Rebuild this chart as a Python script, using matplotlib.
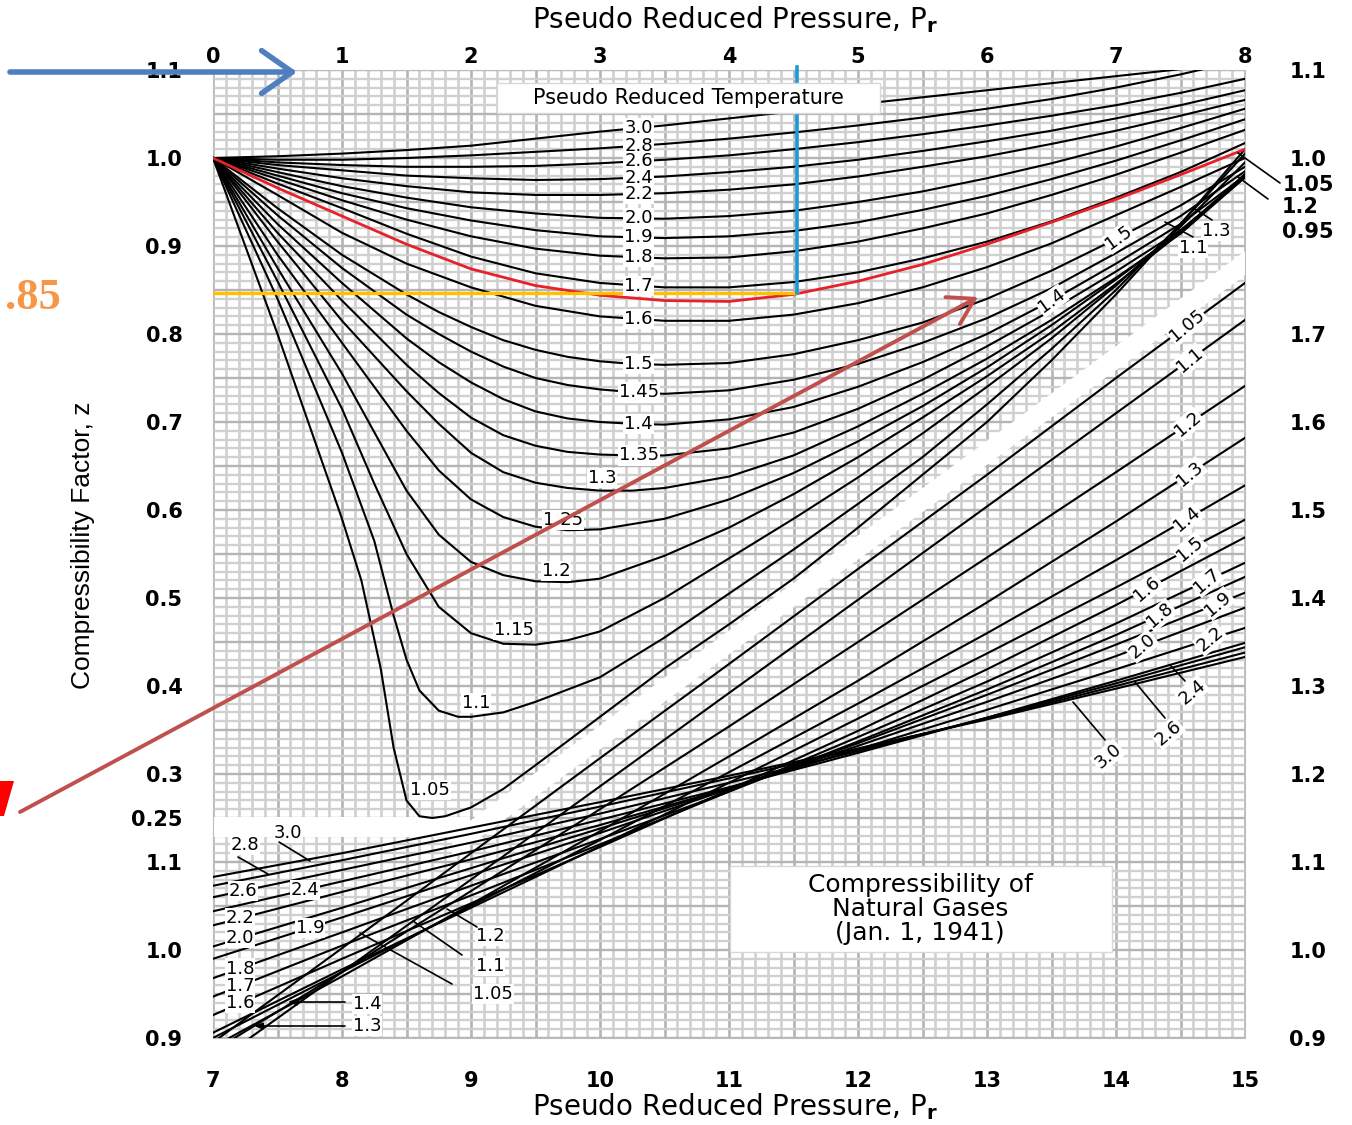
import numpy as np
import matplotlib.pyplot as plt
from matplotlib.patches import Polygon, Rectangle

# ---------------- values ----------------
# upper chart: pseudo reduced pressure 0-8 (top scale), z on the upper-left scale
pr_up = [0, 0.5, 1, 1.5, 2, 2.5, 3, 3.5, 4, 4.5, 5, 5.5, 6, 6.5, 7, 7.5, 8]
z_up_30 = [1.0, 1.002, 1.005, 1.009, 1.014, 1.022, 1.030, 1.037, 1.045, 1.053, 1.061, 1.069, 1.077, 1.085, 1.093, 1.101, 1.109]
z_up_28 = [1.0, 0.998, 0.998, 1.000, 1.003, 1.007, 1.011, 1.016, 1.022, 1.029, 1.037, 1.046, 1.056, 1.067, 1.080, 1.095, 1.112]
z_up_26 = [1.0, 0.995, 0.992, 0.990, 0.990, 0.991, 0.994, 0.998, 1.003, 1.010, 1.018, 1.027, 1.037, 1.048, 1.060, 1.074, 1.090]
z_up_24 = [1.0, 0.992, 0.986, 0.980, 0.977, 0.975, 0.976, 0.979, 0.984, 0.990, 0.998, 1.008, 1.019, 1.031, 1.045, 1.060, 1.077]
z_up_22 = [1.0, 0.988, 0.977, 0.968, 0.961, 0.958, 0.958, 0.960, 0.964, 0.970, 0.979, 0.990, 1.002, 1.016, 1.031, 1.048, 1.066]
z_up_20 = [1.0, 0.984, 0.968, 0.955, 0.944, 0.937, 0.932, 0.931, 0.934, 0.940, 0.950, 0.962, 0.977, 0.994, 1.013, 1.034, 1.056]
z_up_19 = [1.0, 0.980, 0.960, 0.943, 0.929, 0.918, 0.911, 0.909, 0.911, 0.917, 0.927, 0.941, 0.957, 0.976, 0.997, 1.020, 1.044]
z_up_18 = [1.0, 0.976, 0.952, 0.930, 0.911, 0.897, 0.889, 0.886, 0.887, 0.894, 0.905, 0.920, 0.937, 0.958, 0.981, 1.006, 1.032]
z_up_17 = [1.0, 0.971, 0.943, 0.914, 0.888, 0.869, 0.858, 0.853, 0.853, 0.859, 0.870, 0.886, 0.905, 0.928, 0.955, 0.984, 1.017]
z_up_16 = [1.0, 0.958, 0.915, 0.880, 0.853, 0.832, 0.820, 0.815, 0.815, 0.822, 0.835, 0.853, 0.876, 0.903, 0.935, 0.967, 1.000]

pr_mid = [0, 0.5, 1, 1.5, 1.75, 2, 2.25, 2.5, 2.75, 3, 3.25, 3.5, 4, 4.5, 5, 5.5, 6, 6.5, 7, 7.5, 8]
z_up_15 = [1.0, 0.943, 0.890, 0.845, 0.825, 0.808, 0.793, 0.782, 0.774, 0.769, 0.766, 0.765, 0.767, 0.777, 0.793, 0.813, 0.840, 0.872, 0.908, 0.946, 0.990]
z_up_145 = [1.0, 0.935, 0.875, 0.822, 0.800, 0.780, 0.763, 0.750, 0.742, 0.737, 0.734, 0.732, 0.736, 0.748, 0.766, 0.790, 0.818, 0.852, 0.892, 0.934, 0.985]
z_up_14 = [1.0, 0.925, 0.858, 0.795, 0.768, 0.745, 0.726, 0.712, 0.704, 0.700, 0.698, 0.697, 0.703, 0.717, 0.740, 0.768, 0.800, 0.838, 0.880, 0.925, 0.980]
z_up_135 = [1.0, 0.915, 0.838, 0.765, 0.733, 0.705, 0.685, 0.673, 0.666, 0.663, 0.662, 0.662, 0.670, 0.688, 0.715, 0.748, 0.786, 0.827, 0.871, 0.918, 0.978]
z_up_13 = [1.0, 0.905, 0.815, 0.735, 0.698, 0.665, 0.643, 0.631, 0.625, 0.622, 0.622, 0.625, 0.638, 0.662, 0.695, 0.732, 0.772, 0.816, 0.864, 0.914, 0.978]

pr_up_lo = [0, 0.5, 1, 1.5, 1.75, 2, 2.25, 2.5, 2.75, 3, 3.5, 4, 4.5, 5, 5.5, 6, 6.5, 7, 7.5, 8]
z_up_125 = [1.0, 0.890, 0.790, 0.690, 0.645, 0.612, 0.592, 0.581, 0.577, 0.578, 0.590, 0.612, 0.642, 0.678, 0.718, 0.762, 0.810, 0.862, 0.917, 0.980]
z_up_12 = [1.0, 0.875, 0.755, 0.622, 0.572, 0.541, 0.526, 0.519, 0.518, 0.522, 0.548, 0.580, 0.618, 0.660, 0.705, 0.752, 0.802, 0.857, 0.915, 0.982]

pr_up_115 = [0, 0.5, 1, 1.25, 1.5, 1.75, 2, 2.25, 2.5, 2.75, 3, 3.5, 4, 4.5, 5, 5.5, 6, 6.5, 7, 7.5, 8]
z_up_115 = [1.0, 0.860, 0.715, 0.630, 0.550, 0.490, 0.460, 0.448, 0.447, 0.452, 0.462, 0.500, 0.545, 0.590, 0.637, 0.687, 0.740, 0.795, 0.855, 0.922, 0.995]

pr_up_11 = [0, 0.5, 1, 1.25, 1.4, 1.5, 1.6, 1.75, 1.9, 2, 2.25, 2.5, 3, 3.5, 4, 4.5, 5, 5.5, 6, 6.5, 7, 7.5, 8]
z_up_11 = [1.0, 0.840, 0.665, 0.565, 0.480, 0.430, 0.395, 0.372, 0.365, 0.365, 0.370, 0.382, 0.410, 0.455, 0.505, 0.555, 0.607, 0.660, 0.720, 0.783, 0.850, 0.925, 1.005]

pr_up_105 = [0, 0.25, 0.5, 0.75, 1, 1.15, 1.3, 1.4, 1.5, 1.6, 1.7, 1.8, 2, 2.25, 2.5, 3, 3.5, 4, 4.5, 5, 5.5, 6, 6.5, 7, 7.5, 8]
z_up_105 = [1.0, 0.900, 0.800, 0.695, 0.590, 0.520, 0.420, 0.330, 0.270, 0.252, 0.250, 0.252, 0.262, 0.283, 0.310, 0.365, 0.420, 0.470, 0.522, 0.580, 0.640, 0.700, 0.770, 0.845, 0.925, 1.010]

# highlighted curve and the read-off point (z = 0.85 at Pr = 4.5)
z_red = [1.0, 0.966, 0.934, 0.902, 0.874, 0.855, 0.844, 0.838, 0.837, 0.845, 0.860, 0.879, 0.902, 0.927, 0.953, 0.981, 1.010]
pr_read = 4.53
z_read = 0.847

# lower chart: pseudo reduced pressure 7-15 (bottom scale), z on the right scale
pr_lo = [7, 8, 9, 10, 11, 12, 13, 14, 15]
z_lo_105 = [0.895, 1.002, 1.110, 1.218, 1.325, 1.433, 1.540, 1.650, 1.758]
z_lo_11 = [0.870, 0.975, 1.080, 1.186, 1.292, 1.398, 1.504, 1.610, 1.716]
z_lo_12 = [0.885, 0.975, 1.067, 1.160, 1.254, 1.350, 1.446, 1.543, 1.641]
z_lo_13 = [0.890, 0.970, 1.052, 1.135, 1.220, 1.306, 1.395, 1.487, 1.582]
z_lo_14 = [0.900, 0.975, 1.050, 1.125, 1.202, 1.280, 1.360, 1.443, 1.528]
z_lo_15 = [0.906, 0.978, 1.048, 1.118, 1.190, 1.263, 1.337, 1.412, 1.489]
z_lo_16 = [0.926, 0.990, 1.053, 1.117, 1.182, 1.249, 1.319, 1.392, 1.469]
z_lo_17 = [0.947, 1.005, 1.062, 1.120, 1.180, 1.242, 1.305, 1.371, 1.440]
z_lo_18 = [0.968, 1.020, 1.073, 1.126, 1.180, 1.237, 1.296, 1.358, 1.424]
z_lo_19 = [0.990, 1.037, 1.085, 1.133, 1.183, 1.235, 1.290, 1.347, 1.406]
z_lo_20 = [1.004, 1.048, 1.093, 1.138, 1.184, 1.232, 1.282, 1.334, 1.389]
z_lo_22 = [1.028, 1.066, 1.103, 1.142, 1.184, 1.228, 1.273, 1.319, 1.366]
z_lo_24 = [1.044, 1.078, 1.112, 1.148, 1.185, 1.224, 1.264, 1.306, 1.349]
z_lo_26 = [1.060, 1.091, 1.122, 1.155, 1.190, 1.226, 1.264, 1.303, 1.344]
z_lo_28 = [1.073, 1.102, 1.132, 1.163, 1.195, 1.228, 1.263, 1.300, 1.338]
z_lo_30 = [1.083, 1.110, 1.139, 1.168, 1.198, 1.229, 1.262, 1.297, 1.333]

top_ticks = [str(v) for v in range(0, 9)]
bottom_ticks = [str(v) for v in range(7, 16)]
left_pos = [1.1, 1.0, 0.9, 0.8, 0.7, 0.6, 0.5, 0.4, 0.3, 0.25, 0.2, 0.1, 0.0]
left_lbl = ['1.1', '1.0', '0.9', '0.8', '0.7', '0.6', '0.5', '0.4', '0.3', '0.25', '1.1', '1.0', '0.9']
right_pos = [1.1, 1.0, 0.8, 0.7, 0.6, 0.5, 0.4, 0.3, 0.2, 0.1, 0.0]
right_lbl = ['1.1', '1.0', '1.7', '1.6', '1.5', '1.4', '1.3', '1.2', '1.1', '1.0', '0.9']

# ---------------- figure ----------------
plt.rcParams['font.family'] = ['DejaVu Sans']
W, H = 1352, 1125
fig = plt.figure(figsize=(W / 100, H / 100), dpi=100)
ax = fig.add_axes([213 / W, 1 - 1038 / H, 1032 / W, 968 / H])
ax.set_xlim(0, 8)
ax.set_ylim(0, 1.1)


def px(x, y):
    # reference-image pixel -> data coords of the main axes
    return (x - 213) / 129.0, 1.0 - (y - 158) / 880.0


def fpx(x, y):
    return x / W, 1 - y / H


# graph paper
for g in np.arange(0, 8.001, 0.1):
    major = abs(g * 2 - round(g * 2)) < 1e-6
    ax.axvline(g, color='#b4b4b4' if major else '#d0d0d0', lw=1.9, zorder=0)
for g in np.arange(0, 1.1001, 0.01):
    major = abs(g * 20 - round(g * 20)) < 1e-6
    ax.axhline(g, color='#b4b4b4' if major else '#d0d0d0', lw=1.7, zorder=0)

# white separating band and strip
band_top = [px(x, 605 - (x - 780) * 0.735 - 12) for x in (452, 1248)]
band_bot = [px(x, 605 - (x - 780) * 0.735 + 12) for x in (1248, 452)]
ax.add_patch(Polygon(band_top + band_bot, fc='white', ec='none', zorder=1))
ax.add_patch(Rectangle(px(213, 837), (470 - 213) / 129, 20 / 880, fc='white', ec='none', zorder=1))

# curves
up_curves = [
    (pr_up, z_up_30), (pr_up, z_up_28), (pr_up, z_up_26), (pr_up, z_up_24),
    (pr_up, z_up_22), (pr_up, z_up_20), (pr_up, z_up_19), (pr_up, z_up_18),
    (pr_up, z_up_17), (pr_up, z_up_16), (pr_mid, z_up_15), (pr_mid, z_up_145),
    (pr_mid, z_up_14), (pr_mid, z_up_135), (pr_mid, z_up_13), (pr_up_lo, z_up_125),
    (pr_up_lo, z_up_12), (pr_up_115, z_up_115), (pr_up_11, z_up_11), (pr_up_105, z_up_105),
]
for pr, z in up_curves:
    ax.plot(pr, z, color='black', lw=1.5, zorder=3, solid_joinstyle='round')

lo_curves = [z_lo_105, z_lo_11, z_lo_12, z_lo_13, z_lo_14, z_lo_15, z_lo_16, z_lo_17,
             z_lo_18, z_lo_19, z_lo_20, z_lo_22, z_lo_24, z_lo_26, z_lo_28, z_lo_30]
x_lo = np.array(pr_lo) - 7
for z in lo_curves:
    ax.plot(x_lo, np.array(z) - 0.9, color='black', lw=1.5, zorder=3)

ax.plot(pr_up, z_red, color='#e8202a', lw=2.0, zorder=4)
ax.plot([0, pr_read], [z_read, z_read], color='#ffc000', lw=2.4, zorder=4)
ax.plot([pr_read, pr_read], [z_read, 1.103], color='#1c9ad6', lw=2.6, zorder=4, clip_on=False)


def tag(x, y, s, size=13, rot=0, box=True):
    ax.text(x, y, s, ha='center', va='center', fontsize=size, rotation=rot,
            rotation_mode='anchor', zorder=6,
            bbox=dict(boxstyle='square,pad=0.06', fc='white', ec='none') if box else None)


def leader(p0, p1, arrow=False):
    ax.annotate('', xy=px(*p1), xytext=px(*p0),
                arrowprops=dict(arrowstyle='-|>,head_length=0.5,head_width=0.2' if arrow else '-',
                                lw=1.2, color='black', shrinkA=0, shrinkB=0),
                zorder=6, annotation_clip=False)


# upper chart labels
column = [(pr_up, z_up_30, '3.0'), (pr_up, z_up_28, '2.8'), (pr_up, z_up_26, '2.6'),
          (pr_up, z_up_24, '2.4'), (pr_up, z_up_22, '2.2'), (pr_up, z_up_20, '2.0'),
          (pr_up, z_up_19, '1.9'), (pr_up, z_up_18, '1.8'), (pr_up, z_up_17, '1.7'),
          (pr_up, z_up_16, '1.6'), (pr_mid, z_up_15, '1.5'), (pr_mid, z_up_145, '1.45'),
          (pr_mid, z_up_14, '1.4'), (pr_mid, z_up_135, '1.35')]
for pr, z, s in column:
    tag(3.3, np.interp(3.3, pr, z), s)
for s, p in [('1.3', (602, 478)), ('1.25', (563, 520)), ('1.2', (556, 571)),
             ('1.15', (514, 630)), ('1.1', (476, 703)), ('1.05', (430, 790))]:
    tag(*px(*p), s)
tag(7.02, np.interp(7.02, pr_mid, z_up_15), '1.5', rot=36)
tag(6.5, np.interp(6.5, pr_mid, z_up_14), '1.4', rot=36)
tag(*px(1216, 231), '1.3')
leader((1195, 209), (1212, 220))
tag(*px(1193, 248), '1.1')
leader((1165, 222), (1193, 237))
leader((1238, 153), (1280, 183))
leader((1238, 177), (1268, 199))

# lower chart labels, in line
for z, s, xp in [(z_lo_26, '2.6', 243), (z_lo_22, '2.2', 240), (z_lo_20, '2.0', 240),
                 (z_lo_18, '1.8', 240), (z_lo_17, '1.7', 240), (z_lo_16, '1.6', 240),
                 (z_lo_24, '2.4', 305), (z_lo_19, '1.9', 310)]:
    x = (xp - 213) / 129
    tag(x, np.interp(x + 7, pr_lo, z) - 0.9, s)
for z, s, xp in [(z_lo_105, '1.05', 1187), (z_lo_11, '1.1', 1190), (z_lo_12, '1.2', 1188),
                 (z_lo_13, '1.3', 1190), (z_lo_14, '1.4', 1187), (z_lo_15, '1.5', 1190),
                 (z_lo_16, '1.6', 1147), (z_lo_17, '1.7', 1207), (z_lo_18, '1.8', 1160),
                 (z_lo_19, '1.9', 1218), (z_lo_20, '2.0', 1142), (z_lo_22, '2.2', 1210)]:
    x = (xp - 213) / 129
    tag(x, np.interp(x + 7, pr_lo, z) - 0.9, s, rot=40)

# lower chart labels with leaders
tag(*px(288, 833), '3.0')
leader((279, 842), (310, 861))
tag(*px(245, 845), '2.8')
leader((238, 857), (268, 874))
tag(*px(367, 1004), '1.4')
leader((345, 1002), (288, 1002), arrow=True)
tag(*px(367, 1026), '1.3')
leader((345, 1026), (254, 1026), arrow=True)
tag(*px(490, 936), '1.2')
leader((447, 909), (477, 927))
tag(*px(490, 966), '1.1')
leader((413, 921), (462, 955))
tag(*px(493, 994), '1.05')
leader((360, 933), (452, 984))
tag(*px(1192, 692), '2.4', rot=40)
leader((1170, 665), (1185, 681))
tag(*px(1168, 733), '2.6', rot=40)
leader((1135, 682), (1165, 718))
tag(*px(1108, 756), '3.0', rot=40)
leader((1073, 702), (1105, 740))

# captions inside the grid
ax.add_patch(Rectangle(px(497, 113), (880 - 497) / 129, 30 / 880, fc='white', ec='#d8d8d8', zorder=5))
ax.text(*px(688, 98), 'Pseudo Reduced Temperature', ha='center', va='center', fontsize=15, zorder=6)
ax.add_patch(Rectangle(px(730, 952), (1112 - 730) / 129, 86 / 880, fc='white', ec='#d8d8d8', zorder=5))
ax.text(*px(920, 909), 'Compressibility of\nNatural Gases\n(Jan. 1, 1941)', ha='center', va='center',
        fontsize=18, linespacing=1.0, zorder=6)

# axes and ticks
for s in ax.spines.values():
    s.set_color('#bdbdbd')
ax.set_xticks(range(9))
ax.set_xticklabels(bottom_ticks, fontsize=15, fontweight='bold')
ax.set_yticks(left_pos)
ax.set_yticklabels(left_lbl, fontsize=15, fontweight='bold')
ax.tick_params(axis='x', length=0, pad=24)
ax.tick_params(axis='y', length=0, pad=22)

secx = ax.secondary_xaxis('top')
secx.set_xticks(range(9))
secx.set_xticklabels(top_ticks, fontsize=15, fontweight='bold')
secx.tick_params(length=0, pad=2)
secx.spines['top'].set_visible(False)

secy = ax.secondary_yaxis('right')
secy.set_yticks(right_pos)
secy.set_yticklabels(right_lbl, fontsize=15, fontweight='bold')
secy.tick_params(length=0, pad=32)
secy.spines['right'].set_visible(False)

for s, p in [('1.05', (1308, 185)), ('1.2', (1300, 207)), ('0.95', (1308, 232))]:
    fig.text(*fpx(*p), s, ha='center', va='center', fontsize=15, fontweight='bold')

fig.text(*fpx(735, 20), r'Pseudo Reduced Pressure, P$_{\mathbf{r}}$', ha='center', va='center', fontsize=20)
fig.text(*fpx(735, 1107), r'Pseudo Reduced Pressure, P$_{\mathbf{r}}$', ha='center', va='center', fontsize=20)
fig.text(*fpx(83, 545), 'Compressibility Factor, z', ha='center', va='center', rotation=90,
         fontsize=19, family=['Liberation Sans Narrow', 'Liberation Sans'])

# overlay marks
ax.annotate('', xy=px(297, 72), xytext=px(10, 72),
            arrowprops=dict(arrowstyle='->,head_length=1.0,head_width=0.7', mutation_scale=22,
                            lw=4, color='#4f7fbf', shrinkA=0, shrinkB=0),
            zorder=10, annotation_clip=False)
ax.annotate('', xy=px(978, 297), xytext=px(20, 812),
            arrowprops=dict(arrowstyle='->,head_length=0.9,head_width=0.55', mutation_scale=20,
                            lw=2.8, color='#c0504d', shrinkA=0, shrinkB=0),
            zorder=10, annotation_clip=False)
fig.text(*fpx(61, 298), '.85', ha='right', va='center', color='#f79646', fontsize=32,
         fontweight='bold', family='Liberation Serif')
fig.add_artist(Polygon([fpx(0, 781), fpx(14, 781), fpx(4, 816), fpx(0, 816)],
                       closed=True, transform=fig.transFigure, fc='#ff0000', ec='none'))

fig.savefig('out.png', dpi=100)
